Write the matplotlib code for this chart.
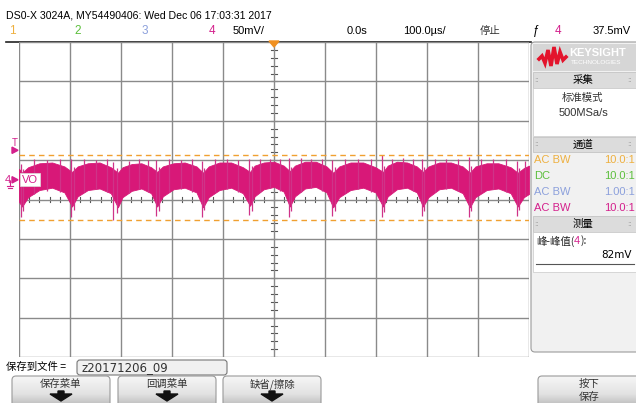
import numpy as np
import matplotlib
matplotlib.use("Agg")
import matplotlib.pyplot as plt
from matplotlib.patches import FancyBboxPatch, Rectangle, Polygon
from matplotlib.colors import LinearSegmentedColormap
from matplotlib.transforms import blended_transform_factory

# ---------------- SCOPE SETTINGS ----------------
time_per_div = 100      # us/div
volt_per_div = 50       # mV/div
ch4_offset = 25         # mV, ground marker sits this far above screen centre
trig_level = 37.5       # mV
pk_pk = 82              # mV, measured peak-peak
cursor_top = 31         # mV

# ---------------- WAVEFORM (CH4, VO) ----------------
# band envelope of the noisy ripple, time in us, level in mV
t_env = [-500,
         -494, -482, -460, -435, -411,
         -396, -385, -365, -342, -320,
         -306, -297, -279, -260, -241,
         -229, -218, -197, -175, -152,
         -139, -128, -107, -84, -61,
         -47, -38, -20, 0, 19,
         31, 41, 61, 82, 103,
         116, 128, 150, 175, 199,
         214, 223, 241, 261, 280,
         292, 303, 324, 347, 370,
         384, 395, 417, 440, 464,
         478, 490, 500]
v_upper = [14,
           9, 16, 21, 22, 17,
           10, 17, 21, 22, 16,
           9, 16, 20, 21, 16,
           10, 17, 21, 22, 17,
           9, 17, 22, 22, 16,
           10, 18, 22, 23, 18,
           11, 18, 23, 23, 17,
           9, 17, 22, 22, 16,
           10, 18, 23, 22, 17,
           10, 17, 22, 22, 17,
           9, 17, 21, 21, 16,
           9, 15, 18]
v_lower = [-28,
           -34, -22, -13, -10, -16,
           -34, -21, -13, -11, -17,
           -35, -22, -14, -11, -17,
           -34, -21, -12, -10, -16,
           -35, -22, -13, -10, -17,
           -33, -21, -12, -9, -15,
           -34, -21, -11, -9, -16,
           -35, -22, -13, -10, -16,
           -34, -21, -12, -10, -16,
           -34, -22, -12, -10, -17,
           -35, -22, -13, -11, -17,
           -34, -22, -18]

# narrow glitches sticking out of the band
spike_t = [-497, -492, -398, -393, -316, -308, -231, -226, -141, -137,
           -49, -44, 29, 34, 114, 119, 212, 216, 290, 295, 382, 387, 476, 481,
           -470, -445, -420, -372, -350, -328, -285, -265, -247,
           -205, -183, -160, -115, -92, -70, -28, -8, 12,
           52, 73, 95, 140, 165, 190, 232, 252, 272,
           315, 338, 360, 406, 430, 455, 492]
spike_lo = [-47, -40, -47, -38, -51, -42, -46, -40, -47, -38,
            -45, -40, -47, -39, -46, -40, -47, -41, -46, -39, -47, -40, -46, -38,
            -18, -14, -16, -16, -12, -15, -17, -12, -15,
            -16, -12, -15, -16, -12, -15, -16, -11, -14,
            -16, -11, -14, -17, -12, -15, -16, -11, -14,
            -16, -12, -14, -16, -12, -15, -20]
spike_hi = [20, 14, 26, 16, 22, 15, 25, 16, 24, 15,
            27, 18, 28, 16, 25, 16, 31, 18, 27, 16, 29, 18, 24, 15,
            26, 25, 27, 26, 25, 27, 24, 26, 25,
            27, 25, 26, 26, 27, 25, 27, 26, 27,
            28, 27, 26, 26, 27, 26, 27, 28, 26,
            27, 26, 27, 26, 27, 26, 24]

# ---------------- COLOURS / FONTS ----------------
CH_COL = ['#eeb040', '#5cbf3c', '#8ca0dc', '#d4208c']
TRACE = '#d81878'
NARROW = ['Liberation Sans', 'DejaVu Sans']
CJK = ['Noto Sans CJK SC', 'DejaVu Sans']

fig = plt.figure(figsize=(6.36, 4.03), dpi=100)
fig.patch.set_facecolor('white')

# background / foreground layers in pixel coordinates
bg = fig.add_axes([0, 0, 1, 1], zorder=0)
bg.axis('off')
fg = fig.add_axes([0, 0, 1, 1], zorder=3)
fg.axis('off')
fg.patch.set_alpha(0)

W, H = 636, 403
gx0, gx1, gy0, gy1 = 19, 529, 42, 357
ax = fig.add_axes([gx0 / W, 1 - gy1 / H, (gx1 - gx0) / W, (gy1 - gy0) / H], zorder=2)
ax.patch.set_alpha(0)

# ---------------- GRATICULE ----------------
ax.set_xlim(-5 * time_per_div, 5 * time_per_div)
ax.set_ylim(-4 * volt_per_div - ch4_offset, 4 * volt_per_div - ch4_offset)
ax.set_xticks(np.arange(-5, 6) * time_per_div)
ax.set_yticks(np.arange(-4, 5) * volt_per_div - ch4_offset)
ax.grid(True, color='#8a8a8a', lw=1.0)
ax.tick_params(length=0, labelbottom=False, labelleft=False)
for s in ax.spines.values():
    s.set_visible(False)
mid_v = -ch4_offset
for x in np.arange(-500, 501, 20):
    ax.plot([x, x], [mid_v - 3, mid_v + 3], color='#555555', lw=0.8, zorder=1)
for y in np.arange(-225, 176, 10):
    ax.plot([-6, 6], [y, y], color='#555555', lw=0.8, zorder=1)

# ---------------- TRACE ----------------
ax.fill_between(t_env, v_lower, v_upper, color=TRACE, lw=0.6, ec=TRACE, zorder=4)
ax.vlines(spike_t, spike_lo, spike_hi, color='#cf3388', lw=0.9, zorder=5)

# peak-peak cursors
for lvl in (cursor_top, cursor_top - pk_pk):
    ax.axhline(lvl, color='#f0a030', lw=1.0, ls=(0, (4, 3)), zorder=6)

# left edge markers (trigger level and ch4 ground)
edge = blended_transform_factory(fg.transData, ax.transData)
fg.text(15, trig_level + 3, 'T', transform=edge, color=CH_COL[3], fontsize=7,
        ha='center', va='bottom', family=NARROW)
fg.add_patch(Polygon([(12, trig_level + 4), (12, trig_level - 4), (18, trig_level)],
                     closed=True, transform=edge, color=CH_COL[3]))
fg.text(8, 0, '4', transform=edge, color=CH_COL[3], fontsize=8,
        ha='center', va='center', family=NARROW)
fg.add_patch(Polygon([(12, 4), (12, -4), (18, 0)], closed=True, transform=edge, color=CH_COL[3]))
fg.plot([10, 10], [-2, -8], transform=edge, color=CH_COL[3], lw=0.8)
fg.plot([7, 13], [-8, -8], transform=edge, color=CH_COL[3], lw=0.8)
fg.plot([8, 12], [-10, -10], transform=edge, color=CH_COL[3], lw=0.8)
fg.text(30, 0, 'VO', transform=edge, color=CH_COL[3], fontsize=8, ha='center', va='center',
        family=NARROW, bbox=dict(fc='white', ec='#dddddd', lw=0.5, pad=1.2))

# top border and trigger position marker
bg.plot([6, 531], [gy0, gy0], color='#222222', lw=1.2)
fg.add_patch(Polygon([(269, 41), (279, 41), (274, 47)], closed=True, color='#f09020'))

# ---------------- HEADER ----------------
fg.text(6, 16, 'DS0-X 3024A, MY54490406: Wed Dec 06 17:03:31 2017', fontsize=7.6,
        family=NARROW, va='center')
for i, xp in enumerate([12, 78, 145, 212]):
    fg.text(xp, 31, str(i + 1), color=CH_COL[i], fontsize=8.5, family=NARROW,
            ha='center', va='center')
fg.text(233, 31, '50mV/', fontsize=8, family=NARROW, va='center')
fg.text(347, 31, '0.0s', fontsize=8, family=NARROW, va='center')
fg.text(403, 31, '100.0µs/', fontsize=8, family=NARROW, va='center')
fg.text(480, 31, '停止', fontsize=7.5, family=CJK, va='center', color='#333333')
fg.text(536, 31, 'ƒ', fontsize=8.5, family=NARROW, va='center', ha='center')
fg.text(558, 31, '4', fontsize=8.5, family=NARROW, va='center', ha='center', color=CH_COL[3])
fg.text(631, 31, '37.5mV', fontsize=8, family=NARROW, va='center', ha='right')

# ---------------- RIGHT PANEL ----------------
bg.add_patch(FancyBboxPatch((531, 42), 110, 310, boxstyle='round,pad=0,rounding_size=4',
                            fc='#f1f1f1', ec='#9c9c9c', lw=0.8))
bg.add_patch(Rectangle((533, 44), 105, 27, fc='#d6d6d6', ec='none'))
logo = [(539, 59), (542, 56), (545, 63), (548, 50), (551, 66), (554, 47),
        (557, 64), (560, 52), (563, 60), (566, 57)]
fg.plot(*zip(*logo), color='#e3142c', lw=2.6, solid_joinstyle='miter')
fg.text(569, 53, 'KEYSIGHT', color='white', fontsize=8, fontweight='bold', va='center',
        family=NARROW)
fg.text(571, 63, 'TECHNOLOGIES', color='white', fontsize=4.6, va='center', family=NARROW)


def band(y0, y1, label):
    bg.add_patch(Rectangle((533, y0), 105, y1 - y0, fc='#dcdcdc', ec='#bdbdbd', lw=0.5))
    fg.text(583, (y0 + y1) / 2, label, family=CJK, fontsize=7.5, ha='center', va='center')
    for xd in (537, 630):
        fg.text(xd, (y0 + y1) / 2, '::', color='#9a9a9a', fontsize=5, ha='center', va='center')


band(72, 88, '采集')
bg.add_patch(Rectangle((533, 88), 105, 48, fc='white', ec='#c8c8c8', lw=0.5))
fg.text(583, 98, '标准模式', family=CJK, fontsize=7.5, ha='center', va='center', color='#333333')
fg.text(583, 113, '500MSa/s', family=NARROW, fontsize=8, ha='center', va='center', color='#333333')

band(137, 152, '通道')
ch_cpl = ['AC BW', 'DC', 'AC BW', 'AC BW']
ch_ratio = ['10.0:1', '10.0:1', '1.00:1', '10.0:1']
for i in range(4):
    yy = 160 + 16 * i
    fg.text(534, yy, ch_cpl[i], color=CH_COL[i], fontsize=8, family=NARROW, va='center')
    fg.text(635, yy, ch_ratio[i], color=CH_COL[i], fontsize=8, family=NARROW,
            va='center', ha='right')

band(216, 232, '测量')
bg.add_patch(Rectangle((533, 232), 105, 40, fc='white', ec='#c8c8c8', lw=0.5))
t1 = fg.text(536, 241, '峰-峰值(', family=CJK, fontsize=7.5, va='center', color='#222222')
t2 = fg.annotate('4', xy=(1, 0.5), xycoords=t1, family=NARROW, fontsize=8,
                 va='center', color=CH_COL[3])
fg.annotate('):', xy=(1, 0.5), xycoords=t2, family=CJK, fontsize=7.5, va='center',
            color='#222222')
fg.text(632, 255, f'{pk_pk}mV', family='DejaVu Sans', fontsize=7.5, va='center', ha='right')
fg.plot([536, 634], [264, 264], color='#555555', lw=0.8)

# ---------------- BOTTOM BAR ----------------
fg.text(6, 367, '保存到文件 = ', family=CJK, fontsize=7.5, va='center')
bg.add_patch(FancyBboxPatch((77, 360), 150, 15, boxstyle='round,pad=0,rounding_size=3',
                            fc='#f0f0f0', ec='#777777', lw=0.8))
fg.text(81, 367.5, 'z20171206_09', family='DejaVu Sans', fontsize=8.5, va='center', color='#333333')

grad = np.linspace(0, 1, 64).reshape(-1, 1)
btn_cmap = LinearSegmentedColormap.from_list('btn', ['#f6f6f6', '#e2e2e2', '#a6a6a6'])


def button(x0, x1, lines, arrow=True):
    y0, y1 = 376, 412
    patch = FancyBboxPatch((x0, y0), x1 - x0, y1 - y0, boxstyle='round,pad=0,rounding_size=4',
                           fc='none', ec='#9a9a9a', lw=0.8, zorder=2)
    bg.add_patch(patch)
    im = bg.imshow(grad, extent=(x0, x1, y1, y0), cmap=btn_cmap, aspect='auto', zorder=1)
    im.set_clip_path(patch)
    cx = (x0 + x1) / 2
    for k, s in enumerate(lines):
        fg.text(cx, 384 + 13 * k, s, family=CJK, fontsize=7.5, ha='center', va='center',
                color='#333333')
    if arrow:
        fg.add_patch(Polygon([(cx - 3, 391), (cx + 3, 391), (cx + 3, 394), (cx + 11, 394),
                              (cx, 401), (cx - 11, 394), (cx - 3, 394)], closed=True,
                             color='#111111'))


button(12, 110, ['保存菜单'])
button(118, 216, ['回调菜单'])
button(223, 321, ['缺省/擦除'])
button(538, 640, ['按下', '保存'], arrow=False)

for a in (bg, fg):
    a.set_xlim(0, W)
    a.set_ylim(H, 0)

fig.savefig('out.png', dpi=100)
